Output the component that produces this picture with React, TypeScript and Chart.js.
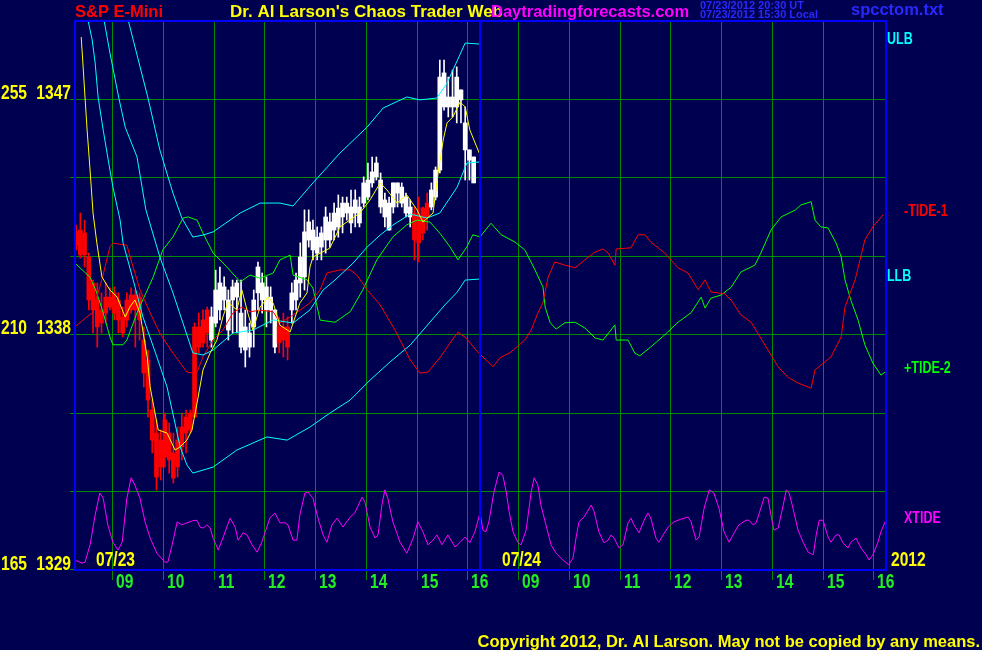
import { useEffect, useRef } from "react";
import { Chart, registerables } from "chart.js";

Chart.register(...registerables);

// ---------- data ----------
// x unit: 5-minute bar index counted from 08:15 on 07/23 (96 bars per session; 07/24 starts at 96)
const sessionStarts = [0, 96];
const sessionDates = ["07/23", "07/24"];
const yearLabel = "2012";
const hourTicks = [9, 21, 33, 45, 57, 69, 81, 93];
const hourLabels = ["09", "10", "11", "12", "13", "14", "15", "16"];
const priceGrid = [1332, 1335, 1338, 1341, 1344, 1347];
const leftPriceLabels = [1347, 1338, 1329];
const leftTideLabels = ["255", "210", "165"];

const titleLeft = "S&P E-Mini";
const titleMid = "Dr. Al Larson's Chaos Trader Web";
const titleSite = "Daytradingforecasts.com";
const stampUT = "07/23/2012 20:30 UT";
const stampLocal = "07/23/2012 15:30 Local";
const fileName = "spcctom.txt";
const copyright = "Copyright 2012, Dr. Al Larson. May not be copied by any means.";

// price bars (5 min), 07/23
const barHigh = [
  1342.17, 1342.63, 1342.36, 1341.10, 1340.07, 1339.96, 1339.58, 1339.96, 1339.77, 1339.81,
  1339.58, 1339.04, 1339.58, 1339.77, 1339.69, 1339.58, 1338.28, 1337.40, 1335.49, 1334.73,
  1334.35, 1334.99, 1334.61, 1334.23, 1334.46, 1334.99, 1335.11, 1335.11, 1338.43, 1338.81,
  1338.93, 1339.04, 1339.04, 1340.45, 1340.57, 1340.19, 1339.69, 1340.07, 1340.07, 1340.07,
  1338.93, 1338.43, 1339.69, 1340.76, 1340.34, 1340.19, 1339.81, 1338.93, 1338.66, 1338.81,
  1338.66, 1339.96, 1340.34, 1341.49, 1342.75, 1342.75, 1342.36, 1342.10, 1342.10, 1342.86,
  1342.63, 1343.01, 1343.32, 1343.24, 1343.24, 1343.51, 1343.51, 1343.24, 1344.01, 1344.54,
  1344.77, 1344.77, 1344.16, 1343.39, 1343.24, 1343.78, 1343.78, 1343.78, 1343.39, 1343.13,
  1342.86, 1343.24, 1342.86, 1343.39, 1343.78, 1344.39, 1348.47, 1348.47, 1347.82, 1348.09,
  1348.21, 1347.33, 1346.68, 1345.04, 1344.77,
];
const barLow = [
  1341.22, 1340.91, 1340.57, 1338.93, 1338.05, 1337.51, 1338.05, 1338.43, 1338.93, 1338.55,
  1338.05, 1337.90, 1338.28, 1338.81, 1337.51, 1337.78, 1335.99, 1334.84, 1333.47, 1332.05,
  1332.44, 1332.93, 1332.70, 1332.32, 1332.55, 1333.20, 1333.47, 1334.23, 1334.84, 1337.29,
  1337.51, 1337.51, 1337.51, 1338.28, 1338.55, 1338.93, 1337.78, 1338.05, 1338.05, 1337.29,
  1336.75, 1337.13, 1337.51, 1338.93, 1338.81, 1338.28, 1338.43, 1337.29, 1337.29, 1337.13,
  1337.02, 1338.43, 1338.93, 1339.42, 1339.69, 1341.33, 1340.84, 1340.84, 1340.84, 1341.10,
  1341.33, 1341.60, 1341.71, 1341.87, 1342.36, 1341.87, 1342.10, 1342.10, 1342.86, 1343.13,
  1343.62, 1343.89, 1342.63, 1342.10, 1341.98, 1342.63, 1342.86, 1342.86, 1342.48, 1342.10,
  1340.84, 1340.76, 1341.60, 1341.98, 1342.75, 1343.13, 1344.16, 1346.56, 1346.30, 1346.30,
  1346.07, 1346.07, 1343.89, 1343.89, 1343.78,
];
const barBodyTop = [
  1341.91, 1341.98, 1341.87, 1340.95, 1339.96, 1339.31, 1338.93, 1339.42, 1339.42, 1339.58,
  1339.31, 1338.66, 1339.31, 1339.50, 1339.50, 1339.42, 1337.78, 1337.02, 1335.11, 1334.23,
  1333.96, 1334.73, 1334.23, 1333.47, 1333.96, 1334.46, 1334.84, 1334.99, 1338.28, 1338.28,
  1338.55, 1338.93, 1338.66, 1339.69, 1339.96, 1339.81, 1339.31, 1339.81, 1339.96, 1338.81,
  1338.28, 1338.05, 1339.31, 1340.57, 1339.96, 1339.81, 1339.42, 1338.93, 1338.28, 1338.28,
  1338.28, 1339.58, 1340.07, 1340.95, 1341.91, 1342.29, 1341.98, 1341.71, 1341.87, 1342.48,
  1342.29, 1342.63, 1342.82, 1343.01, 1343.01, 1342.86, 1343.13, 1342.86, 1343.78, 1343.89,
  1344.20, 1344.54, 1343.89, 1343.13, 1343.01, 1343.78, 1343.78, 1343.62, 1343.24, 1342.86,
  1342.63, 1342.48, 1342.82, 1343.01, 1343.51, 1344.27, 1347.82, 1347.98, 1347.06, 1347.06,
  1347.82, 1347.33, 1346.07, 1345.04, 1344.77,
];
const barBodyBottom = [
  1341.41, 1341.03, 1341.03, 1339.31, 1338.93, 1338.28, 1338.43, 1338.81, 1339.04, 1338.81,
  1338.55, 1338.05, 1338.55, 1338.93, 1338.93, 1338.55, 1336.52, 1335.49, 1333.96, 1332.55,
  1332.93, 1333.31, 1333.20, 1332.51, 1332.93, 1333.70, 1334.23, 1334.35, 1334.84, 1337.51,
  1337.67, 1338.05, 1337.78, 1338.43, 1338.93, 1339.31, 1338.16, 1339.31, 1339.42, 1337.51,
  1337.40, 1337.51, 1338.28, 1339.58, 1339.31, 1338.93, 1338.93, 1337.51, 1337.67, 1337.78,
  1337.51, 1338.93, 1339.31, 1339.96, 1340.19, 1341.60, 1341.22, 1341.10, 1341.33, 1341.60,
  1341.60, 1341.98, 1342.10, 1342.48, 1342.63, 1342.25, 1342.63, 1342.25, 1343.01, 1343.24,
  1343.78, 1344.01, 1342.86, 1342.48, 1341.98, 1342.86, 1343.39, 1343.01, 1342.63, 1342.48,
  1341.60, 1341.49, 1341.87, 1342.48, 1342.86, 1343.24, 1344.27, 1346.68, 1346.68, 1346.68,
  1346.68, 1346.95, 1345.04, 1344.65, 1343.78,
];
const redBarRanges = [[0, 31], [48, 50], [80, 83]];

// yellow average (price)
const avgLine = [
  [1.7, 1349.35], [2.1, 1348.36], [2.6, 1347.06], [3.1, 1345.8], [3.8, 1344.27], [4.5, 1342.63],
  [5.4, 1341.49], [6.6, 1340.19], [8.5, 1339.69], [10.2, 1339.42], [12.1, 1338.66], [13.2, 1339.04],
  [14.4, 1339.31], [15.6, 1338.81], [17.3, 1337.13], [18.0, 1335.99], [19.9, 1334.35], [22.0, 1334.23],
  [23.9, 1333.58], [25.1, 1333.7], [26.7, 1333.96], [27.9, 1334.35], [29.1, 1335.38], [30.5, 1336.64],
  [32.2, 1337.29], [33.8, 1337.78], [35.2, 1338.66], [36.4, 1339.23], [38.5, 1338.93], [39.7, 1339.69],
  [41.1, 1338.81], [42.3, 1338.16], [44.0, 1339.04], [45.9, 1339.42], [47.1, 1339.19], [48.7, 1338.35],
  [51.1, 1338.09], [53.4, 1339.19], [55.1, 1339.58], [55.8, 1340.57], [56.5, 1340.95], [60.5, 1341.29],
  [62.9, 1342.1], [67.6, 1342.63], [70.0, 1343.13], [72.4, 1343.78], [74.0, 1343.51], [76.4, 1343.01],
  [78.7, 1343.32], [81.1, 1342.75], [82.5, 1342.29], [84.9, 1342.63], [86.1, 1344.16], [87.3, 1345.42],
  [88.2, 1346.07], [89.6, 1346.3], [91.3, 1346.87], [92.5, 1346.68], [93.6, 1345.8], [96.0, 1344.85],
];

// cyan bands (price)
const upperBand = [
  [11.6, 1351.9], [12.8, 1350.0], [17.5, 1347.02], [20.3, 1345.04], [23.4, 1343.39], [25.5, 1342.44],
  [28.1, 1341.71], [30.5, 1341.79], [32.9, 1341.91], [39.3, 1342.63], [44.0, 1343.01], [48.7, 1343.01],
  [51.8, 1342.9], [56.5, 1343.78], [62.9, 1344.92], [69.3, 1345.91], [73.1, 1346.64], [78.7, 1347.06],
  [81.8, 1346.95], [85.8, 1347.02], [88.2, 1347.59], [92.5, 1349.12], [96.0, 1349.08],
];
const middleBand = [
  [6.1, 1351.9], [7.1, 1350.0], [8.5, 1348.74], [10.6, 1347.02], [12.1, 1345.91], [14.9, 1344.77],
  [17.0, 1342.75], [20.3, 1340.95], [23.4, 1339.58], [28.1, 1337.29], [30.5, 1337.21], [32.9, 1337.4],
  [37.6, 1338.05], [42.3, 1338.16], [47.1, 1338.55], [51.8, 1338.43], [55.8, 1338.93], [58.9, 1339.69],
  [61.7, 1340.07], [66.0, 1340.72], [69.3, 1341.33], [72.4, 1341.79], [75.4, 1342.17], [79.5, 1342.59],
  [83.5, 1342.44], [86.5, 1342.63], [90.6, 1343.62], [92.9, 1344.54], [96.0, 1344.58],
];
const lowerBand = [
  [2.4, 1351.9], [3.3, 1350.0], [4.3, 1349.24], [5.0, 1348.36], [5.7, 1347.06], [6.9, 1345.8],
  [8.5, 1344.27], [9.2, 1343.62], [10.9, 1342.36], [11.6, 1341.49], [14.0, 1340.07], [16.3, 1338.66],
  [19.2, 1337.32], [22.0, 1335.99], [25.1, 1333.7], [26.7, 1333.01], [28.1, 1332.7], [32.9, 1332.93],
  [38.5, 1333.58], [45.6, 1334.08], [50.4, 1333.96], [55.8, 1334.46], [60.5, 1334.99], [65.3, 1335.49],
  [70.0, 1336.25], [74.7, 1336.94], [79.5, 1337.59], [84.2, 1338.47], [87.7, 1339.12], [90.6, 1339.61],
  [92.5, 1340.07], [96.0, 1340.11],
];

// tides (tide units: 165..270)
const tide1 = [
  [0.2, 211.4], [2.1, 212.7], [4.3, 214.1], [5.4, 217.1], [6.6, 220.4], [8.5, 226.7], [9.2, 227.4],
  [12.5, 227.0], [13.7, 223.6], [15.6, 218.5], [18.0, 214.1], [20.3, 210.2], [23.4, 206.4], [26.7, 202.8],
  [28.1, 202.6], [29.1, 202.8], [30.5, 205.7], [32.9, 208.9], [35.2, 210.8], [37.6, 214.1], [39.7, 215.2],
  [41.6, 214.3], [44.0, 214.6], [47.1, 214.3], [48.7, 212.2], [51.1, 213.3], [53.4, 214.6], [55.8, 216.0],
  [58.2, 218.5], [59.8, 221.7], [62.9, 222.3], [65.3, 222.3], [66.9, 221.3], [69.3, 218.5], [72.4, 215.6],
  [75.9, 210.8], [79.5, 205.1], [81.8, 202.6], [83.7, 202.8], [86.5, 205.5], [88.9, 208.3], [90.8, 210.4],
  [92.7, 209.3], [95.5, 206.6],
  [99.1, 203.8], [100.7, 205.5], [103.3, 206.6], [106.6, 208.9], [108.1, 210.8], [109.7, 214.1],
  [110.9, 216.0], [111.4, 218.1], [112.1, 220.9], [113.7, 223.8], [116.1, 223.2], [118.5, 222.7],
  [120.8, 224.2], [123.2, 225.7], [125.1, 226.3], [126.3, 225.5], [127.9, 223.2], [128.2, 226.3],
  [131.7, 226.5], [133.4, 229.0], [135.0, 229.0], [136.4, 227.6], [139.7, 225.5], [142.8, 222.7],
  [145.2, 221.7], [147.6, 218.5], [149.2, 220.4], [150.6, 218.1], [153.9, 217.7], [155.4, 216.5],
  [157.7, 213.7], [160.1, 212.3], [161.7, 210.2], [164.1, 207.0], [166.5, 203.8], [168.8, 201.8],
  [171.2, 200.7], [174.3, 199.7], [175.2, 203.2], [176.6, 204.1], [179.0, 205.7], [181.4, 209.5],
  [182.3, 215.2], [184.7, 220.4], [187.0, 228.0], [188.9, 230.5], [191.3, 232.8],
];
const tide2 = [
  [0.2, 223.6], [3.8, 220.9], [5.4, 217.9], [6.9, 214.1], [8.5, 209.5], [9.2, 208.0], [11.6, 208.0],
  [12.5, 208.9], [14.9, 214.1], [18.7, 220.9], [21.0, 226.1], [23.4, 228.6], [25.8, 232.2], [27.0, 232.4],
  [29.1, 231.8], [30.5, 229.3], [32.9, 225.5], [36.2, 222.8], [39.3, 220.0], [41.6, 221.3], [44.0, 220.7],
  [47.1, 221.7], [48.7, 224.2], [51.1, 225.1], [51.8, 221.3], [55.1, 220.4], [56.5, 218.8], [58.2, 212.7],
  [61.7, 212.3], [65.3, 214.3], [68.3, 218.5], [71.6, 224.2], [75.4, 228.6], [78.7, 230.9], [81.1, 231.8],
  [84.2, 231.4], [86.5, 229.3], [88.9, 226.7], [90.8, 224.2], [92.9, 226.7], [94.3, 229.0], [96.0, 228.6],
  [98.6, 231.2], [101.0, 229.0], [104.3, 227.6], [106.6, 226.1], [109.0, 222.3], [110.9, 219.0],
  [111.4, 215.2], [112.6, 212.2], [114.0, 211.0], [116.1, 212.2], [118.5, 212.3], [120.8, 211.2],
  [123.2, 209.3], [125.1, 208.9], [127.9, 211.8], [128.2, 208.9], [131.0, 208.9], [132.6, 206.4],
  [133.8, 205.9], [136.4, 207.6], [139.7, 209.9], [142.8, 212.3], [145.9, 214.1], [148.3, 217.1],
  [149.2, 215.0], [150.6, 216.9], [153.0, 217.5], [155.4, 219.0], [157.7, 221.9], [161.0, 223.2],
  [162.4, 225.5], [164.8, 229.9], [167.2, 232.4], [170.5, 233.7], [171.9, 234.7], [174.3, 235.3],
  [175.2, 231.8], [176.6, 230.5], [178.3, 230.3], [180.2, 227.4], [181.4, 224.8], [182.3, 220.4],
  [183.7, 216.5], [185.4, 212.7], [187.0, 208.0], [188.9, 204.5], [190.8, 202.2], [191.8, 202.8],
];
const xtide = [
  [0.2, 166.9], [1.9, 166.3], [2.6, 166.5], [3.8, 169.8], [5.0, 175.5], [6.1, 179.7], [6.9, 178.7],
  [8.0, 173.6], [9.2, 170.3], [10.4, 168.8], [11.4, 170.3], [12.5, 178.7], [13.5, 182.6], [14.4, 181.2],
  [15.6, 178.7], [16.8, 174.2], [18.0, 171.1], [19.6, 168.2], [21.5, 166.5], [22.2, 166.5], [23.2, 169.8],
  [24.4, 174.2], [25.5, 173.6], [26.7, 174.0], [28.1, 174.4], [29.1, 174.5], [29.8, 173.2], [30.5, 173.0],
  [31.4, 173.6], [32.2, 173.0], [32.9, 171.1], [34.1, 168.8], [35.2, 171.1], [36.9, 174.9], [38.1, 173.2],
  [38.8, 170.7], [40.0, 172.1], [40.9, 171.7], [42.1, 169.8], [43.3, 168.4], [44.4, 170.3], [46.3, 174.9],
  [47.5, 175.9], [48.7, 174.0], [49.9, 174.0], [50.6, 173.6], [51.8, 170.7], [52.7, 170.7], [53.4, 175.5],
  [54.6, 179.7], [55.3, 179.9], [56.5, 178.7], [57.7, 174.9], [58.9, 171.7], [59.8, 170.3], [61.0, 173.6],
  [62.2, 174.9], [63.6, 173.2], [65.3, 175.1], [66.4, 175.9], [68.1, 178.9], [68.8, 178.0], [70.0, 173.2],
  [71.2, 171.1], [71.9, 171.7], [72.8, 177.4], [73.5, 180.3], [74.2, 178.7], [75.4, 174.2], [77.1, 170.3],
  [78.7, 168.2], [80.2, 171.1], [81.3, 174.2], [82.5, 172.3], [83.7, 169.8], [84.9, 170.7], [85.8, 171.7],
  [87.0, 169.8], [88.4, 171.7], [90.1, 169.4], [91.3, 170.3], [92.5, 171.3], [93.6, 170.2], [94.8, 172.3],
  [96.0, 175.9],
  [96.7, 172.6], [97.4, 172.3], [98.1, 174.2], [99.3, 179.9], [100.5, 183.7], [101.4, 183.1], [102.2, 179.9],
  [102.9, 176.1], [103.8, 172.3], [105.0, 170.2], [105.7, 169.8], [106.9, 172.6], [108.1, 179.9],
  [108.8, 182.6], [109.7, 181.2], [110.4, 177.4], [111.6, 173.6], [112.8, 169.8], [114.0, 168.2],
  [115.6, 166.9], [117.0, 166.0], [118.0, 167.3], [118.7, 171.1], [119.4, 174.2], [120.6, 175.1],
  [122.3, 177.4], [123.0, 176.1], [124.1, 172.3], [125.3, 170.2], [126.3, 170.7], [127.0, 171.7],
  [127.7, 171.1], [128.9, 169.2], [129.8, 169.8], [131.0, 174.0], [131.7, 174.9], [132.4, 173.6],
  [133.6, 172.1], [134.8, 174.5], [135.7, 175.9], [136.4, 174.9], [137.6, 171.1], [138.3, 170.3],
  [139.3, 171.7], [140.5, 173.2], [141.9, 174.2], [143.5, 174.7], [145.2, 175.1], [145.9, 174.2],
  [147.1, 170.7], [147.8, 171.3], [149.0, 176.8], [150.2, 180.3], [151.3, 179.7], [152.5, 176.8],
  [153.7, 172.3], [154.9, 170.3], [156.1, 172.1], [157.2, 173.6], [158.9, 174.5], [159.6, 174.5],
  [160.6, 173.6], [161.3, 174.0], [162.4, 176.8], [163.2, 178.9], [164.1, 178.7], [164.8, 175.5],
  [165.5, 172.6], [166.5, 173.0], [167.7, 177.4], [168.4, 180.3], [169.1, 179.7], [170.0, 176.8],
  [171.2, 172.6], [172.4, 170.3], [173.6, 168.4], [174.8, 167.9], [175.5, 171.7], [176.2, 174.5],
  [177.1, 174.5], [178.3, 171.3], [179.0, 170.3], [180.2, 171.7], [180.9, 171.7], [181.8, 170.2],
  [183.0, 169.2], [183.7, 170.3], [184.9, 171.1], [186.1, 169.2], [187.3, 167.9], [188.0, 166.9],
  [188.9, 167.9], [190.1, 170.3], [190.8, 172.3], [191.8, 174.2],
];

const rightLabels = [
  { text: "ULB", color: "#00ffff", price: 1349.08, dx: 0 },
  { text: "-TIDE-1", color: "#ff0000", price: 1342.52, dx: 17 },
  { text: "LLB", color: "#00ffff", price: 1340.03, dx: 0 },
  { text: "+TIDE-2", color: "#00ff00", price: 1336.52, dx: 17 },
  { text: "XTIDE", color: "#ff00ff", price: 1330.79, dx: 17 },
];

// ---------- styling ----------
const BG = "#000050";
const GRID = "#008c00";
const BLUE = "#0000ff";
const YELLOW = "#ffff00";
const CYAN = "#00ffff";
const HOURGREEN = "#22ee22";
const FONT = '"Liberation Sans", Arial, sans-serif';

const toPts = (arr: number[][]) => arr.map(([x, y]) => ({ x, y }));
const isRed = (i: number) => redBarRanges.some(([a, b]) => i >= a && i <= b);

function condensed(ctx: CanvasRenderingContext2D, text: string, x: number, y: number, color: string, size: number, align: CanvasTextAlign) {
  ctx.save();
  ctx.translate(x, y);
  ctx.scale(0.78, 1);
  ctx.font = `bold ${size}px ${FONT}`;
  ctx.fillStyle = color;
  ctx.textAlign = align;
  ctx.textBaseline = "alphabetic";
  ctx.fillText(text, 0, 0);
  ctx.restore();
}

const decorPlugin = {
  id: "decor",
  beforeDraw(chart: any) {
    const ctx = chart.ctx;
    ctx.save();
    ctx.fillStyle = BG;
    ctx.fillRect(0, 0, chart.width, chart.height);
    ctx.restore();
  },
  beforeDatasetsDraw(chart: any) {
    const { ctx, chartArea: a, scales } = chart;
    const xs = scales.x;
    const ys = scales.y;
    ctx.save();
    ctx.strokeStyle = GRID;
    ctx.lineWidth = 1;
    ctx.beginPath();
    priceGrid.forEach((p) => {
      const y = Math.round(ys.getPixelForValue(p)) + 0.5;
      ctx.moveTo(a.left - 4, y);
      ctx.lineTo(a.right, y);
    });
    ctx.moveTo(a.left - 4, a.bottom - 0.5);
    ctx.lineTo(a.left, a.bottom - 0.5);
    sessionStarts.forEach((s) => {
      hourTicks.forEach((h) => {
        const x = Math.round(xs.getPixelForValue(s + h)) + 0.5;
        ctx.moveTo(x, a.top);
        ctx.lineTo(x, a.bottom + 10);
      });
    });
    ctx.stroke();
    ctx.restore();
  },
  afterDatasetsDraw(chart: any) {
    const { ctx, chartArea: a, scales } = chart;
    const xs = scales.x;
    const ys = scales.y;
    ctx.save();
    // border and session separator
    ctx.strokeStyle = BLUE;
    ctx.lineWidth = 2;
    ctx.strokeRect(a.left + 1, a.top + 1, a.right - a.left - 1, a.bottom - a.top - 1);
    const sep = Math.round(xs.getPixelForValue(sessionStarts[1]));
    ctx.beginPath();
    ctx.moveTo(sep, a.top);
    ctx.lineTo(sep, a.bottom);
    ctx.stroke();

    // header
    ctx.textBaseline = "alphabetic";
    ctx.textAlign = "left";
    ctx.font = `bold 16.5px ${FONT}`;
    ctx.fillStyle = "#ff0000";
    ctx.fillText(titleLeft, 75, 17);
    ctx.font = `bold 17px ${FONT}`;
    ctx.fillStyle = YELLOW;
    ctx.fillText(titleMid, 230, 17);
    ctx.font = `bold 16.5px ${FONT}`;
    ctx.fillStyle = "#ff00ff";
    ctx.fillText(titleSite, 491, 17);
    ctx.fillStyle = "#2828ff";
    ctx.font = `bold 11px ${FONT}`;
    ctx.fillText(stampUT, 700, 9);
    ctx.fillText(stampLocal, 700, 18);
    ctx.font = `bold 16.5px ${FONT}`;
    ctx.fillText(fileName, 851, 15);

    // left labels
    leftPriceLabels.forEach((p, i) => {
      const y = Math.round(ys.getPixelForValue(p));
      condensed(ctx, String(p), 71, y, YELLOW, 20, "right");
      condensed(ctx, leftTideLabels[i], 27, y, YELLOW, 20, "right");
    });

    // hour labels and dates
    sessionStarts.forEach((s, k) => {
      hourTicks.forEach((h, i) => {
        const x = Math.round(xs.getPixelForValue(s + h));
        condensed(ctx, hourLabels[i], x + 4, a.bottom + 18, HOURGREEN, 20, "left");
      });
      const x0 = xs.getPixelForValue(s);
      condensed(ctx, sessionDates[k], x0 + 22, a.bottom - 4, YELLOW, 20, "left");
    });
    condensed(ctx, yearLabel, a.right + 5, a.bottom - 4, YELLOW, 20, "left");

    // right labels
    rightLabels.forEach((r) => {
      const y = Math.round(ys.getPixelForValue(r.price));
      condensed(ctx, r.text, a.right + 1 + r.dx, y, r.color, 16, "left");
    });

    // copyright
    ctx.font = `bold 16.5px ${FONT}`;
    ctx.fillStyle = YELLOW;
    ctx.textAlign = "right";
    ctx.fillText(copyright, 980, 647);
    ctx.restore();
  },
};

export default function App() {
  const ref = useRef<HTMLCanvasElement>(null);
  useEffect(() => {
    document.body.style.margin = "0";
    document.body.style.background = BG;
    const canvas = ref.current!;
    const barColors = barHigh.map((_, i) => (isRed(i) ? "#ff0000" : "#ffffff"));
    const wicks = barHigh.map((h, i) => ({ x: i + 0.5, y: [barLow[i], h] }));
    const bodies = barHigh.map((_, i) => ({ x: i + 0.5, y: [barBodyBottom[i], barBodyTop[i]] }));
    const line = (data: number[][], color: string, axis: string, order: number) => ({
      type: "line" as const,
      data: toPts(data),
      borderColor: color,
      borderWidth: 1,
      pointRadius: 0,
      tension: 0,
      fill: false,
      yAxisID: axis,
      order,
    });
    const chart = new Chart(canvas, {
      type: "bar",
      data: {
        datasets: [
          line(avgLine, YELLOW, "y", 0) as any,
          line(upperBand, CYAN, "y", 1),
          line(middleBand, CYAN, "y", 1),
          line(lowerBand, CYAN, "y", 1),
          line(tide1, "#ff0000", "y2", 2),
          line(tide2, "#00ff00", "y2", 2),
          line(xtide, "#ff00ff", "y2", 3),
          {
            type: "bar",
            data: bodies as any,
            backgroundColor: barColors,
            barThickness: 4,
            grouped: false,
            borderWidth: 0,
            yAxisID: "y",
            order: 4,
          },
          {
            type: "bar",
            data: wicks as any,
            backgroundColor: barColors,
            barThickness: 1,
            grouped: false,
            borderWidth: 0,
            yAxisID: "y",
            order: 5,
          },
        ],
      },
      options: {
        animation: false,
        responsive: false,
        devicePixelRatio: 1,
        layout: { padding: { left: 74, top: 20, right: 96, bottom: 80 } },
        plugins: {
          legend: { display: false },
          tooltip: { enabled: false },
          title: { display: false },
        },
        scales: {
          x: { type: "linear", min: 0, max: 192, offset: false, display: false },
          y: { type: "linear", min: 1329, max: 1350, offset: false, display: false },
          y2: { type: "linear", min: 165, max: 270, offset: false, display: false },
        },
      },
      plugins: [decorPlugin],
    } as any);
    return () => chart.destroy();
  }, []);
  return (
    <canvas
      ref={ref}
      width={982}
      height={650}
      style={{ display: "block", width: 982, height: 650 }}
    />
  );
}
